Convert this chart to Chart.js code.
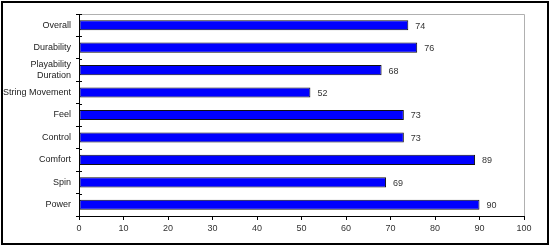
<!DOCTYPE html>
<html>
<head>
<meta charset="utf-8">
<script src="https://cdn.jsdelivr.net/npm/chart.js@4.4.0/dist/chart.umd.min.js"></script>
<style>
  html, body { margin: 0; padding: 0; background: #fff; }
  #wrap { width: 550px; height: 246px; }
</style>
</head>
<body>
<div id="wrap"><canvas id="ratingChart" width="550" height="246"></canvas></div>
<script>
// Categories top to bottom, as in the picture
const categories = ['Overall', 'Durability', ['Playability', 'Duration'], 'String Movement', 'Feel', 'Control', 'Comfort', 'Spin', 'Power'];
const ratings = [74, 76, 68, 52, 73, 73, 89, 69, 90];
const axisMin = 0;
const axisMax = 100;
const axisStep = 10;

const FONT = 'Liberation Sans, Arial, sans-serif';

// Outer frame, plot frame (top/right), and the value labels beside the bars
const decorPlugin = {
    id: 'decor',
    beforeDraw(chart) {
        const ctx = chart.ctx;
        ctx.save();
        ctx.fillStyle = '#fff';
        ctx.fillRect(0, 0, chart.width, chart.height);
        ctx.strokeStyle = '#000';
        ctx.lineWidth = 2;
        ctx.strokeRect(2, 2, chart.width - 4, chart.height - 4);
        ctx.restore();
    },
    afterDatasetsDraw(chart) {
        const ctx = chart.ctx;
        const area = chart.chartArea;
        ctx.save();
        ctx.strokeStyle = '#b0b0b0';
        ctx.lineWidth = 1;
        ctx.beginPath();
        ctx.moveTo(area.left, area.top + 0.5);
        ctx.lineTo(area.right + 0.5, area.top + 0.5);
        ctx.lineTo(area.right + 0.5, area.bottom);
        ctx.stroke();

        // small tick marks reaching into the plot on the category axis
        ctx.strokeStyle = '#000';
        ctx.beginPath();
        for (let i = 0; i <= categories.length; i++) {
            const y = Math.round(area.top + (area.bottom - area.top) * i / categories.length) + 0.5;
            ctx.moveTo(area.left, y);
            ctx.lineTo(area.left + 3, y);
        }
        ctx.stroke();

        const meta = chart.getDatasetMeta(0);
        ctx.fillStyle = '#333';
        ctx.font = '9px ' + FONT;
        ctx.textBaseline = 'middle';
        ctx.textAlign = 'left';
        meta.data.forEach((bar, i) => {
            ctx.fillText(String(ratings[i]), bar.x + 7, bar.y + 1);
        });
        ctx.restore();
    }
};

const ctx = document.getElementById('ratingChart').getContext('2d');
const ratingChart = new Chart(ctx, {
    type: 'bar',
    data: {
        labels: categories,
        datasets: [{
            data: ratings,
            backgroundColor: '#0000ff',
            borderColor: '#111',
            borderWidth: 1,
            borderSkipped: false,
            barPercentage: 0.45,
            categoryPercentage: 1
        }]
    },
    options: {
        indexAxis: 'y',
        responsive: false,
        animation: false,
        layout: {
            padding: { left: 0, right: 26, top: 14, bottom: 0 }
        },
        plugins: {
            legend: { display: false },
            tooltip: { enabled: false }
        },
        scales: {
            x: {
                min: axisMin,
                max: axisMax,
                afterFit(scale) { scale.height = 30; },
                border: { display: true, color: '#000', width: 1 },
                grid: {
                    display: true,
                    drawOnChartArea: false,
                    drawTicks: true,
                    tickLength: 4,
                    color: '#000'
                },
                ticks: {
                    stepSize: axisStep,
                    color: '#333',
                    padding: 3,
                    maxRotation: 0,
                    font: { family: FONT, size: 9 }
                }
            },
            y: {
                afterFit(scale) { scale.width = 79; },
                border: { display: true, color: '#000', width: 1 },
                grid: {
                    display: true,
                    offset: true,
                    drawOnChartArea: false,
                    drawTicks: true,
                    tickLength: 3,
                    color: '#000'
                },
                ticks: {
                    color: '#222',
                    padding: 5,
                    autoSkip: false,
                    font: { family: FONT, size: 9 }
                }
            }
        }
    },
    plugins: [decorPlugin]
});
</script>
</body>
</html>
